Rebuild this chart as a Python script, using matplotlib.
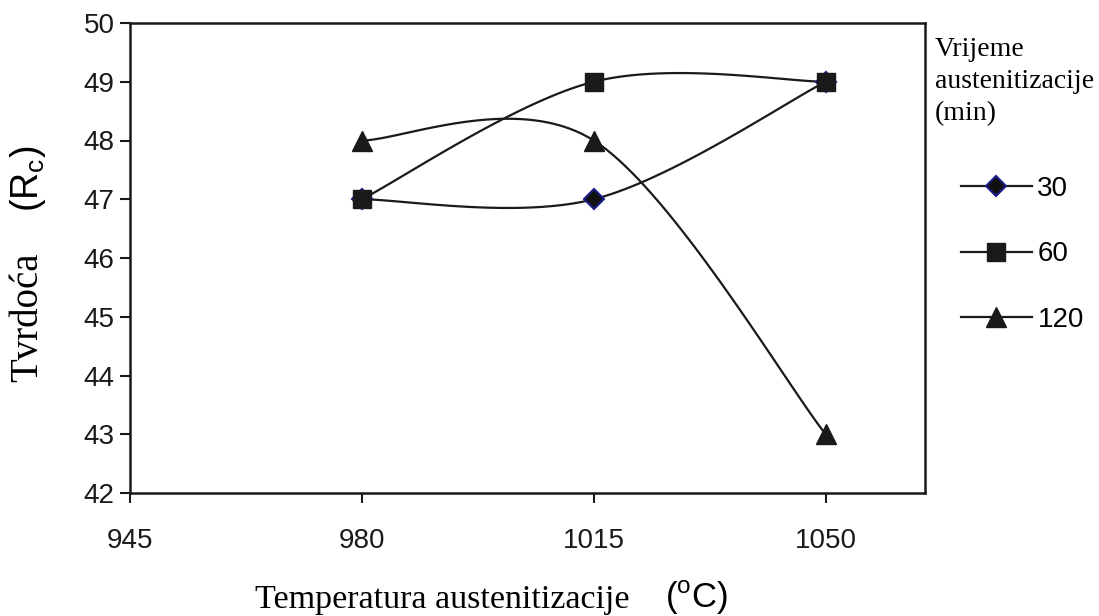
import numpy as np
import matplotlib
matplotlib.use('Agg')
import matplotlib.pyplot as plt

plt.rcParams['mathtext.fontset'] = 'custom'
plt.rcParams['mathtext.rm'] = 'Liberation Sans'
plt.rcParams['mathtext.sf'] = 'Liberation Sans'

# data
temps = [980, 1015, 1050]
t30 = [47, 47, 49]
t60 = [47, 49, 49]
t120 = [48, 48, 43]
series_names = ['30', '60', '120']
x_ticks = [945, 980, 1015, 1050]
y_ticks = [42, 43, 44, 45, 46, 47, 48, 49, 50]


def smooth(xs, ys, n=40):
    # Catmull-Rom like Excel "smoothed line"
    px = [xs[0]] + list(xs) + [xs[-1]]
    py = [ys[0]] + list(ys) + [ys[-1]]
    out_x, out_y = [], []
    for i in range(1, len(px) - 2):
        p0 = np.array([px[i - 1], py[i - 1]], float)
        p1 = np.array([px[i], py[i]], float)
        p2 = np.array([px[i + 1], py[i + 1]], float)
        p3 = np.array([px[i + 2], py[i + 2]], float)
        b1 = p1 + (p2 - p0) / 6.0
        b2 = p2 - (p3 - p1) / 6.0
        t = np.linspace(0, 1, n)[:, None]
        pts = ((1 - t) ** 3) * p1 + 3 * ((1 - t) ** 2) * t * b1 + 3 * (1 - t) * t ** 2 * b2 + t ** 3 * p2
        out_x.extend(pts[:, 0])
        out_y.extend(pts[:, 1])
    return out_x, out_y


W, H = 1099, 616
fig = plt.figure(figsize=(W / 100, H / 100), dpi=100)
ax = fig.add_axes([130 / W, 1 - 493 / H, 795 / W, 470 / H])

styles = [
    dict(marker='D', ms=10.5, mfc='#111111', mec='#1c1c8c', mew=1.5),
    dict(marker='s', ms=12.5, mfc='#1a1a1a', mec='#1a1a1a', mew=1),
    dict(marker='^', ms=14, mfc='#1a1a1a', mec='#1a1a1a', mew=1),
]
handles = []
for ys, st, name in zip([t30, t60, t120], styles, series_names):
    sx, sy = smooth(temps, ys)
    ax.plot(sx, sy, color='#1a1a1a', lw=1.6, zorder=2)
    ax.plot(temps, ys, ls='none', zorder=3, **st)
    h, = ax.plot([], [], color='#1a1a1a', lw=1.6, label=name, **st)
    handles.append(h)

ax.set_xlim(945, 1065)
ax.set_ylim(42, 50)
ax.set_xticks(x_ticks)
ax.set_yticks(y_ticks)
ax.tick_params(direction='out', length=7, width=1.5, colors='#1a1a1a', labelsize=20)
ax.tick_params(axis='x', pad=18)
ax.tick_params(axis='y', pad=4)
for lab in ax.get_xticklabels() + ax.get_yticklabels():
    lab.set_fontfamily('Liberation Sans')
for sp in ax.spines.values():
    sp.set_linewidth(1.8)
    sp.set_color('#1a1a1a')

# y label: serif word + sans unit
fig.text(28 / W, 1 - 382 / H, 'Tvrdoća', rotation=90, ha='center', va='bottom',
         fontsize=28, family='Liberation Serif')
fig.text(28 / W, 1 - 212 / H, r'$(\mathrm{R}_{\mathrm{c}})$', rotation=90, ha='center', va='bottom',
         fontsize=27)

# x label
fig.text(255 / W, 1 - 608 / H, 'Temperatura austenitizacije', ha='left', va='baseline',
         fontsize=24.5, family='Liberation Serif')
fig.text(665 / W, 1 - 608 / H, r'$(^{\mathrm{o}}\mathrm{C})$', ha='left', va='baseline',
         fontsize=25)

fig.text(935 / W, 1 - 37 / H, 'Vrijeme\naustenitizacije\n(min)', ha='left', va='top',
         fontsize=20, family='Liberation Serif', linespacing=1.38)

leg = fig.legend(handles=handles, loc='upper left', bbox_to_anchor=(936 / W, 1 - 151 / H),
                 frameon=False, handlelength=2.55, labelspacing=1.42,
                 handletextpad=0.2, prop={'family': 'Liberation Sans', 'size': 20})

fig.savefig('out.png', dpi=100)
